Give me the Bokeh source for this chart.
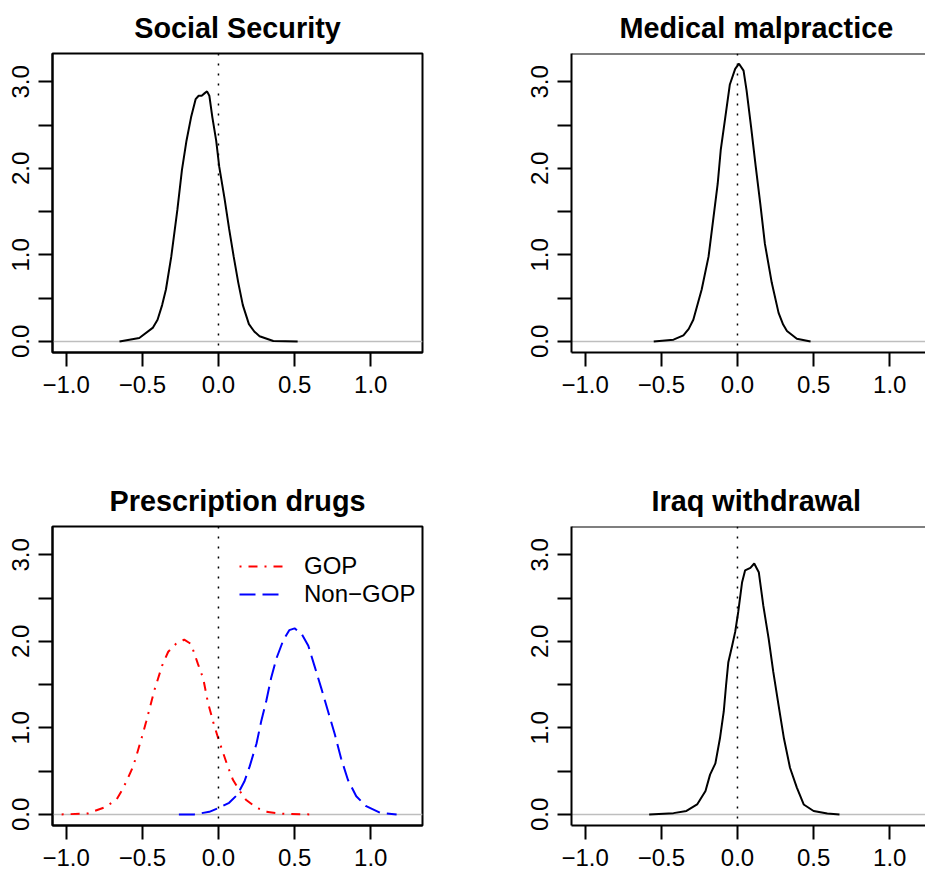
import math
from bokeh.plotting import figure
from bokeh.models import Range1d, FixedTicker, Span, Legend, LegendItem
from bokeh.layouts import column, row
from bokeh.embed import file_html
from bokeh.resources import INLINE
from bokeh.core.properties import value

# ---------------- data ----------------
titles = ["Social Security", "Medical malpractice", "Prescription drugs", "Iraq withdrawal"]

ss_x = [-0.65, -0.52, -0.43, -0.40, -0.37, -0.345, -0.31, -0.27, -0.24, -0.21, -0.18, -0.15, -0.13, -0.11,
        -0.09, -0.075, -0.06, -0.04, -0.015, 0.005, 0.04, 0.07, 0.10, 0.13, 0.16, 0.20, 0.235, 0.27, 0.36, 0.52]
ss_y = [0.0, 0.04, 0.16, 0.25, 0.42, 0.60, 0.98, 1.52, 1.98, 2.32, 2.59, 2.80, 2.84, 2.84,
        2.87, 2.89, 2.84, 2.59, 2.32, 2.02, 1.65, 1.30, 0.98, 0.68, 0.42, 0.20, 0.115, 0.06, 0.005, 0.0]

mm_x = [-0.55, -0.42, -0.355, -0.32, -0.29, -0.235, -0.19, -0.16, -0.13, -0.11, -0.08, -0.05, -0.015,
        0.01, 0.04, 0.06, 0.09, 0.12, 0.15, 0.18, 0.225, 0.27, 0.30, 0.325, 0.39, 0.48]
mm_y = [0.0, 0.02, 0.07, 0.145, 0.25, 0.60, 0.98, 1.40, 1.82, 2.21, 2.59, 2.97, 3.15,
        3.21, 3.13, 2.90, 2.47, 2.02, 1.59, 1.13, 0.68, 0.33, 0.195, 0.12, 0.03, 0.0]

gop_x = [-1.03, -0.86, -0.75, -0.67, -0.63, -0.60, -0.56, -0.51, -0.475, -0.42, -0.37, -0.33,
         -0.28, -0.225, -0.18, -0.135, -0.10, -0.07, -0.035, 0.0, 0.06, 0.095, 0.14, 0.18,
         0.25, 0.325, 0.42, 0.61]
gop_y = [0.0, 0.01, 0.08, 0.17, 0.29, 0.40, 0.555, 0.85, 1.07, 1.44, 1.72, 1.88,
         1.97, 2.02, 1.97, 1.74, 1.57, 1.30, 1.07, 0.87, 0.56, 0.40, 0.27, 0.17,
         0.077, 0.027, 0.008, 0.0]

non_x = [-0.26, -0.16, -0.06, 0.005, 0.07, 0.125, 0.17, 0.205, 0.25, 0.28, 0.315, 0.345,
         0.38, 0.425, 0.465, 0.50, 0.545, 0.59, 0.63, 0.675, 0.72, 0.765, 0.805, 0.85,
         0.905, 0.97, 1.06, 1.17]
non_y = [0.0, 0.0, 0.03, 0.077, 0.134, 0.23, 0.38, 0.555, 0.82, 1.07, 1.32, 1.57,
         1.80, 2.01, 2.13, 2.15, 2.09, 1.95, 1.72, 1.46, 1.19, 0.92, 0.65, 0.40,
         0.21, 0.095, 0.02, 0.0]

iq_x = [-0.58, -0.42, -0.335, -0.265, -0.21, -0.18, -0.145, -0.115, -0.09, -0.075, -0.06, -0.035,
        -0.015, 0.005, 0.03, 0.05, 0.085, 0.11, 0.14, 0.17, 0.205, 0.235, 0.27, 0.305,
        0.345, 0.39, 0.435, 0.50, 0.59, 0.67]
iq_y = [0.0, 0.015, 0.04, 0.115, 0.27, 0.46, 0.59, 0.88, 1.19, 1.49, 1.76, 1.95,
        2.11, 2.34, 2.68, 2.82, 2.85, 2.90, 2.80, 2.41, 2.03, 1.65, 1.26, 0.88,
        0.54, 0.31, 0.115, 0.04, 0.01, 0.0]

legend_labels = ["GOP", "Non\u2212GOP"]

x_ticks = [-1.0, -0.5, 0.0, 0.5, 1.0]
x_tick_labels = ["\u22121.0", "\u22120.5", "0.0", "0.5", "1.0"]
y_ticks = [0.0, 0.5, 1.0, 1.5, 2.0, 2.5, 3.0]
y_tick_labels = ["0.0", "", "1.0", "", "2.0", "", "3.0"]
xlim = (-1.0, 1.25)
ylim = (0.0, 3.2)

# ---------------- styling ----------------
FONT = "Liberation Sans"
FRAME_W = 370
FRAME_H = 301
LEFT_W = 519
RIGHT_W = 406
BORDER_L = 52
TITLE_STANDOFF = 19


def make_panel(title, is_left, is_top, title_offset=0):
    px = 0.04 * (xlim[1] - xlim[0])
    py = 0.04 * (ylim[1] - ylim[0])
    x0, x1 = xlim[0] - px, xlim[1] + px
    y0, y1 = ylim[0] - py, ylim[1] + py
    if is_left:
        width = LEFT_W
        xr = Range1d(x0, x1)
        mbr = width - BORDER_L - FRAME_W
    else:
        width = RIGHT_W
        fw = RIGHT_W - BORDER_L
        xr = Range1d(x0, x0 + (x1 - x0) * fw / FRAME_W)
        mbr = 0
    if is_top:
        height = 473
    else:
        height = 404
    mbb = height - 51 - FRAME_H

    p = figure(width=width, height=height, x_range=xr, y_range=Range1d(y0, y1),
               output_backend="svg", toolbar_location=None,
               min_border_left=BORDER_L, min_border_right=mbr,
               min_border_top=0, min_border_bottom=mbb)
    p.grid.visible = False
    p.background_fill_color = "white"
    p.border_fill_color = "white"
    if is_left:
        p.outline_line_color = "black"
        p.outline_line_width = 2
    else:
        p.outline_line_color = None
        # top border of the box (its right edge lies beyond the picture)
        p.add_layout(Span(location=y1, dimension="width", line_color="black",
                          line_width=2))

    p.title.text = title
    p.title.text_font = FONT
    p.title.text_font_size = "28.8px"
    p.title.text_font_style = "bold"
    p.title.text_color = "black"
    p.title.standoff = TITLE_STANDOFF
    if is_left:
        p.title.align = "center"
    else:
        p.title.align = "left"
        p.title.offset = title_offset

    xa = p.below[0]
    xa.ticker = FixedTicker(ticks=x_ticks)
    xa.major_label_overrides = {t: l for t, l in zip(x_ticks, x_tick_labels)}
    ya = p.left[0]
    ya.ticker = FixedTicker(ticks=y_ticks)
    ya.major_label_overrides = {t: l for t, l in zip(y_ticks, y_tick_labels)}
    ya.major_label_orientation = "vertical"
    for ax in (xa, ya):
        ax.axis_line_width = 2
        ax.axis_line_color = "black"
        ax.major_tick_line_width = 2
        ax.major_tick_line_color = "black"
        ax.major_tick_out = 14
        ax.major_tick_in = 0
        ax.minor_tick_out = 0
        ax.minor_tick_in = 0
        ax.major_label_text_font = FONT
        ax.major_label_text_font_size = "24px"
        ax.major_label_text_color = "black"
    xa.major_label_standoff = 9
    ya.major_label_standoff = 9

    p.add_layout(Span(location=0, dimension="width", line_color="#BEBEBE",
                      line_width=1.5, level="underlay"))
    p.add_layout(Span(location=0, dimension="height", line_color="black",
                      line_width=1.5, line_dash="2 8"))
    return p


p1 = make_panel(titles[0], True, True)
p1.line(ss_x, ss_y, line_color="black", line_width=2)

p2 = make_panel(titles[1], False, True, title_offset=48)
p2.line(mm_x, mm_y, line_color="black", line_width=2)

p3 = make_panel(titles[2], True, False)
r_gop = p3.line(gop_x, gop_y, line_color="#FF0000", line_width=2, line_dash="2 7 9 7")
r_non = p3.line(non_x, non_y, line_color="#0000FF", line_width=2, line_dash="16 7")
legend = Legend(items=[LegendItem(label=value(legend_labels[0]), renderers=[r_gop]),
                       LegendItem(label=value(legend_labels[1]), renderers=[r_non])],
                location=(187, 217), padding=0, margin=0, spacing=0,
                glyph_width=45, glyph_height=28, label_height=28, label_standoff=20,
                label_text_font=FONT, label_text_font_size="24px",
                label_text_color="black",
                border_line_color=None, background_fill_alpha=0)
p3.add_layout(legend)

p4 = make_panel(titles[3], False, False, title_offset=80)
p4.line(iq_x, iq_y, line_color="black", line_width=2)

layout = column(row(p1, p2), row(p3, p4))

open("out.html", "w").write(file_html(layout, INLINE))
